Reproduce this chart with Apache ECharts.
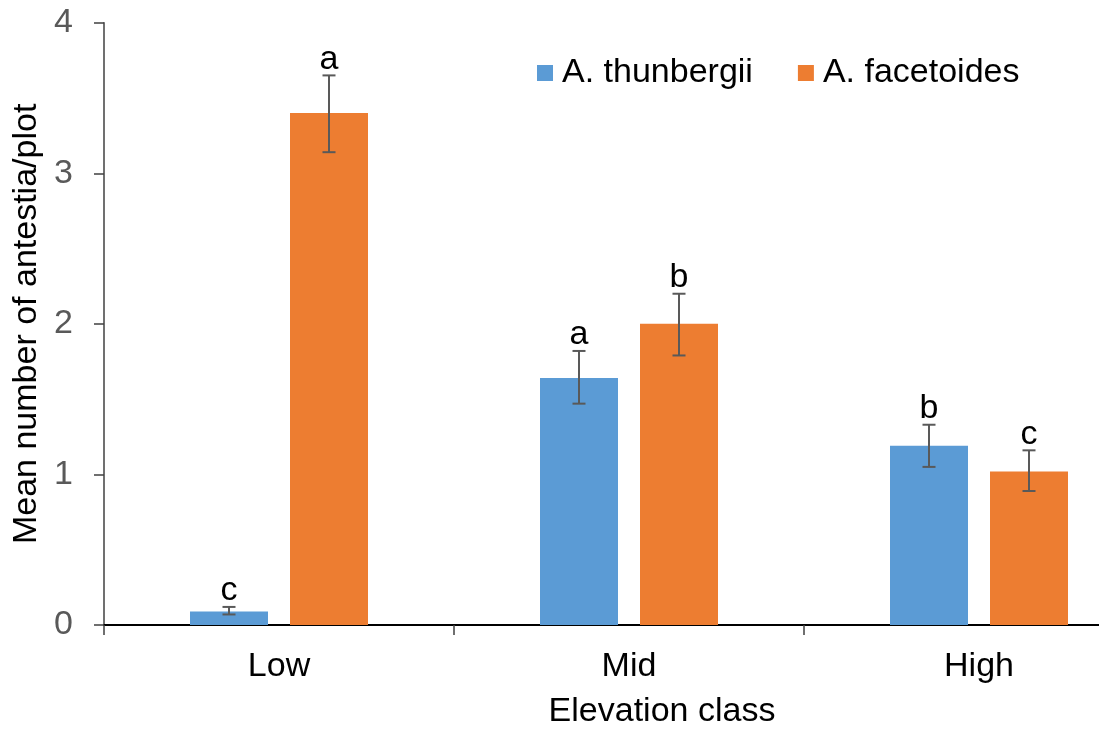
<!DOCTYPE html>
<html>
<head>
<meta charset="utf-8">
<script src="https://cdn.jsdelivr.net/npm/echarts@6/dist/echarts.min.js"></script>
<style>html,body{margin:0;padding:0;background:#fff}#c{width:1099px;height:730px}</style>
</head>
<body>
<div id="c"></div>
<script>
const categories = ['Low', 'Mid', 'High'];
const seriesNames = ['A. thunbergii', 'A. facetoides'];
const thunbergiiMean = [0.09, 1.64, 1.19];
const thunbergiiHigh = [0.12, 1.82, 1.33];
const thunbergiiLow = [0.07, 1.47, 1.05];
const thunbergiiLetters = ['c', 'a', 'b'];
const facetoidesMean = [3.40, 2.00, 1.02];
const facetoidesHigh = [3.65, 2.20, 1.16];
const facetoidesLow = [3.14, 1.79, 0.89];
const facetoidesLetters = ['a', 'b', 'c'];
const yTicks = [0, 1, 2, 3, 4];

const FONT = '"Liberation Sans", Arial, sans-serif';
const FS = 34;
const BAR_W = 78;
const BAR_GAP = 22 / 78;
const colors = ['#5B9BD5', '#ED7D31'];

function errSeries(name, high, low, letters, sign) {
  return {
    type: 'custom',
    name: name + ' err',
    z: 5,
    silent: true,
    data: categories.map((c, i) => [i, high[i], low[i]]),
    encode: { x: 0, y: [1, 2] },
    renderItem: function (params, api) {
      const off = sign * (BAR_W + BAR_W * BAR_GAP) / 2;
      const top = api.coord([api.value(0), api.value(1)]);
      const bot = api.coord([api.value(0), api.value(2)]);
      const x = top[0] + off;
      const cap = 6.5;
      const st = { stroke: '#595959', lineWidth: 2 };
      return {
        type: 'group',
        children: [
          { type: 'line', shape: { x1: x, y1: top[1], x2: x, y2: bot[1] }, style: st },
          { type: 'line', shape: { x1: x - cap, y1: top[1], x2: x + cap, y2: top[1] }, style: st },
          { type: 'line', shape: { x1: x - cap, y1: bot[1], x2: x + cap, y2: bot[1] }, style: st },
          { type: 'text', x: x, y: top[1] + 1, style: { text: letters[params.dataIndex], fill: '#000', font: FS + 'px ' + FONT, align: 'center', verticalAlign: 'bottom' } }
        ]
      };
    }
  };
}

const chart = echarts.init(document.getElementById('c'));
chart.setOption({
  animation: false,
  textStyle: { fontFamily: FONT },
  grid: { left: 104, top: 22.7, bottom: 105, width: 1050, containLabel: false, outerBoundsMode: 'none' },
  legend: {
    data: seriesNames.map((n) => ({ name: n, icon: 'rect' })),
    left: 532, top: 51,
    itemWidth: 16, itemHeight: 16, itemGap: 45,
    textStyle: { fontSize: FS, color: '#000', fontFamily: FONT, padding: [0, 0, 0, 4] }
  },
  xAxis: {
    type: 'category',
    data: categories,
    boundaryGap: true,
    name: 'Elevation class',
    nameLocation: 'middle',
    nameGap: 70,
    nameTextStyle: { fontSize: FS, color: '#000', fontFamily: FONT, padding: [0, 0, 0, 66] },
    axisLine: { lineStyle: { color: '#000', width: 2 } },
    axisTick: { show: true, length: 10, lineStyle: { color: '#404040', width: 1.5 } },
    axisLabel: { fontSize: FS, color: '#000', margin: 25, fontFamily: FONT },
    splitLine: { show: false }
  },
  yAxis: {
    type: 'value',
    min: yTicks[0], max: yTicks[yTicks.length - 1], interval: 1,
    name: 'Mean number of antestia/plot',
    nameLocation: 'middle',
    nameGap: 52,
    nameTextStyle: { fontSize: FS, color: '#000', fontFamily: FONT },
    axisLine: { show: true, lineStyle: { color: '#404040', width: 1.5 } },
    axisTick: { show: true, length: 10, lineStyle: { color: '#404040', width: 1.5 } },
    axisLabel: { fontSize: FS, color: '#595959', margin: 31, fontFamily: FONT },
    splitLine: { show: false }
  },
  series: [
    { type: 'bar', name: seriesNames[0], data: thunbergiiMean, barWidth: BAR_W, barGap: (BAR_GAP * 100) + '%', itemStyle: { color: colors[0] } },
    { type: 'bar', name: seriesNames[1], data: facetoidesMean, barWidth: BAR_W, barGap: (BAR_GAP * 100) + '%', itemStyle: { color: colors[1] } },
    errSeries(seriesNames[0], thunbergiiHigh, thunbergiiLow, thunbergiiLetters, -1),
    errSeries(seriesNames[1], facetoidesHigh, facetoidesLow, facetoidesLetters, 1)
  ]
});
</script>
</body>
</html>
